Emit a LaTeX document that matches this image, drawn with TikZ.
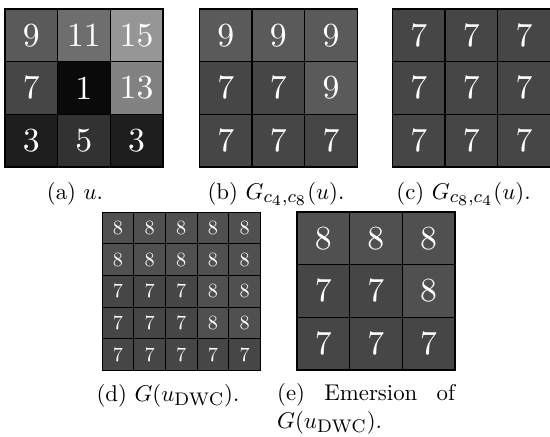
\RequirePackage{fix-cm}
\documentclass[tikz,border=0pt]{standalone}
\usepackage{fontspec}
\DeclareMathSizes{10}{10}{8}{6.5}
\definecolor{v1}{RGB}{10,10,10}
\definecolor{v3}{RGB}{30,30,30}
\definecolor{v5}{RGB}{50,50,50}
\definecolor{v7}{RGB}{70,70,70}
\definecolor{v8}{RGB}{80,80,80}
\definecolor{v9}{RGB}{90,90,90}
\definecolor{v11}{RGB}{110,110,110}
\definecolor{v13}{RGB}{130,130,130}
\definecolor{v15}{RGB}{150,150,150}
\tikzset{
  cell/.style={draw=black, line width=1.4pt, inner sep=0pt, text=white},
  smallcell/.style={draw=black, line width=0.9pt, inner sep=0pt, text=white},
  captext/.style={inner sep=0pt, anchor=base},
  captextl/.style={captext, anchor=base west}
}
\newcommand\capbox[1]{\scalebox{2.28}{#1}}
% name, x0, y0, n, size, style, digit scale, values
\newcommand\mkgrid[8]{%
  \foreach \v [count=\k from 0] in {#8}{%
    \pgfmathtruncatemacro\r{div(\k,#4)}%
    \pgfmathtruncatemacro\c{mod(\k,#4)}%
    \node[#6, minimum size=#5pt, fill=v\v] (#1-\r-\c)
      at ({#2+#5*(\c+0.5)},{#3+#5*(\r+0.5)}) {\scalebox{#7}{\v}};
  }}
\begin{document}
\begin{tikzpicture}[x=1pt,y=-1pt]
\useasboundingbox (0,0) rectangle (550,437);
\mkgrid{a}{5}{9}{3}{52.6}{cell}{3.37}{9,11,15,7,1,13,3,5,3}
\mkgrid{b}{199.5}{9}{3}{52.6}{cell}{3.37}{9,9,9,7,7,9,7,7,7}
\mkgrid{c}{392.5}{9}{3}{52.6}{cell}{3.37}{7,7,7,7,7,7,7,7,7}
\mkgrid{d}{102}{212}{5}{31.7}{smallcell}{2.02}{8,8,8,8,8,8,8,8,8,8,7,7,7,8,8,7,7,7,8,8,7,7,7,7,7}
\mkgrid{e}{297}{212}{3}{52.6}{cell}{3.37}{8,8,8,7,7,8,7,7,7}
\node[captext] (capa) at (75,199) {\capbox{(a) $u$.}};
\node[captext] (capb) at (276,199) {\capbox{(b) $G_{c_4,c_8}(u)$.}};
\node[captext] (capc) at (463.5,199) {\capbox{(c) $G_{c_8,c_4}(u)$.}};
\node[captext] (capd) at (168,401) {\capbox{(d) $G(u_{\mathrm{DWC}})$.}};
\node[captextl] (cape1) at (277,400) {\capbox{\makebox[78pt][s]{(e) Emersion of}}};
\node[captextl] (cape2) at (277,428) {\capbox{$G(u_{\mathrm{DWC}})$.}};
\end{tikzpicture}
\end{document}
